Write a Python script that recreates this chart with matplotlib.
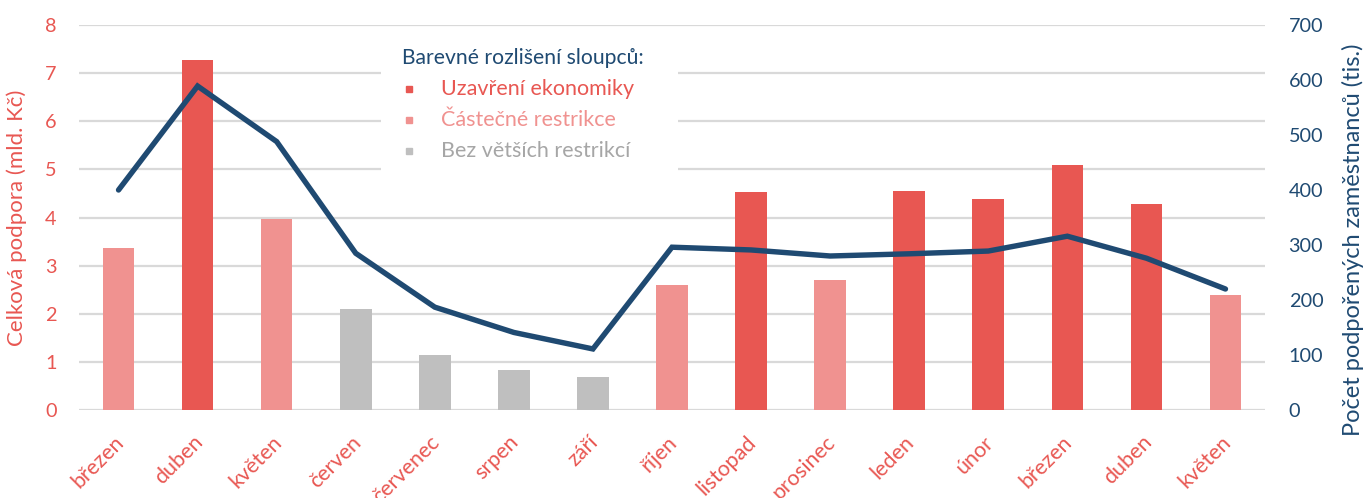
import matplotlib
matplotlib.use("Agg")
import matplotlib.pyplot as plt
from matplotlib.patches import Rectangle
import matplotlib.transforms as mtransforms
import numpy as np

plt.rcParams['font.family'] = ['Lato', 'DejaVu Sans']

months = ["březen", "duben", "květen", "červen", "červenec", "srpen", "září",
          "říjen", "listopad", "prosinec", "leden", "únor", "březen", "duben", "květen"]
support_bn = [3.37, 7.28, 3.97, 2.10, 1.15, 0.84, 0.69, 2.60, 4.54, 2.70, 4.56, 4.38, 5.10, 4.28, 2.40]
regime = ["part", "full", "part", "none", "none", "none", "none", "part", "full", "part",
          "full", "full", "full", "full", "part"]
employees_k = [400, 589, 488, 285, 187, 141, 111, 296, 291, 280, 284, 289, 316, 276, 220]

legend_title = "Barevné rozlišení sloupců:"
legend_labels = {"full": "Uzavření ekonomiky", "part": "Částečné restrikce", "none": "Bez větších restrikcí"}

RED = "#E85752"
LRED = "#F09290"
GRAY = "#BFBFBF"
BLUE = "#1F4A72"
colors = {"full": RED, "part": LRED, "none": GRAY}
text_colors = {"full": RED, "part": LRED, "none": "#A6A6A6"}

fig = plt.figure(figsize=(13.64, 4.98), dpi=100)
ax = fig.add_axes([79/1364, 1-410/498, (1265-79)/1364, (410-25)/498])
ax2 = ax.twinx()

x = np.arange(len(months))
ax.bar(x, support_bn, width=0.4, color=[colors[r] for r in regime], zorder=3)
ax.set_xlim(-0.5, len(months)-0.5)
ax.set_ylim(0, 8)
ax.set_yticks(range(0, 9))
ax.yaxis.grid(True, color="#D9D9D9", linewidth=1.6, zorder=0)
ax.set_axisbelow(True)
for s in ax.spines.values():
    s.set_visible(False)
for s in ax2.spines.values():
    s.set_visible(False)

ax.tick_params(axis='y', length=0, pad=16, labelsize=14.3, labelcolor=RED)
ax.tick_params(axis='x', length=0, pad=21, labelsize=15.5, labelcolor=RED)
ax.set_xticks(x)
ax.set_xticklabels(months, rotation=45, ha='right', va='center', rotation_mode='anchor')
offset = mtransforms.ScaledTranslation(2/100, 0, fig.dpi_scale_trans)
for lbl in ax.get_xticklabels():
    lbl.set_transform(lbl.get_transform() + offset)

ax.set_ylabel("Celková podpora (mld. Kč)", color=RED, fontsize=16)
ax.yaxis.set_label_coords(-52/1186, 0.5)

ax2.plot(x, employees_k, color=BLUE, linewidth=3.9, zorder=4, solid_joinstyle='miter', solid_capstyle='round')
ax2.set_ylim(0, 700)
ax2.set_yticks(range(0, 701, 100))
ax2.tick_params(axis='y', length=0, pad=17, labelsize=14.3, labelcolor=BLUE)
ax2.set_ylabel("Počet podpořených zaměstnanců (tis.)", color=BLUE, fontsize=17)
ax2.yaxis.set_label_coords(1 + (1342-1265)/1186, (410-240)/385)

# legend box (white, covers gridlines)
ax.add_patch(Rectangle((0.2546, 0.56), 0.2504, 0.40, transform=ax.transAxes,
                       facecolor="white", edgecolor="none", zorder=2.5))
ax.text(0.272, 0.914, legend_title, transform=ax.transAxes, color=BLUE,
        fontsize=15.2, va='center', ha='left', zorder=5)
ys = [(410-89)/385, (410-120)/385, (410-151)/385]
for key, yy in zip(["full", "part", "none"], ys):
    ax.plot([(408.5-79)/1186], [yy], marker='s', markersize=5, color=colors[key],
            transform=ax.transAxes, zorder=5, clip_on=False)
    ax.text((441-79)/1186, yy, legend_labels[key], transform=ax.transAxes,
            color=text_colors[key], fontsize=15.5, va='center', ha='left', zorder=5)

fig.savefig("out.png", dpi=100)
